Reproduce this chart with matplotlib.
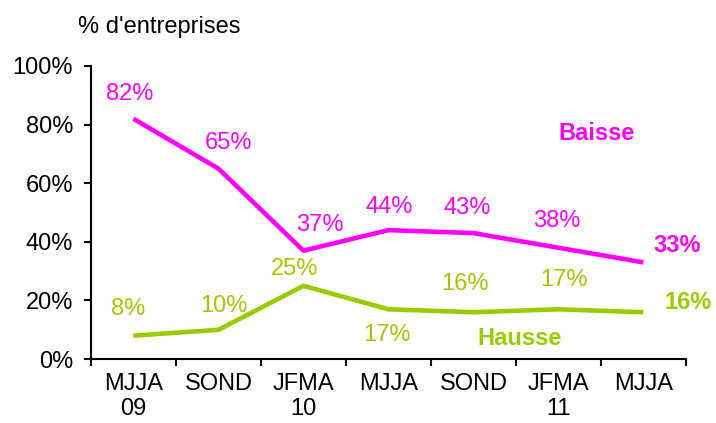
import matplotlib.pyplot as plt
from matplotlib.ticker import FixedLocator, PercentFormatter

plt.rcParams['font.family'] = ['Liberation Sans', 'DejaVu Sans']

periods = ['MJJA\n09', 'SOND', 'JFMA\n10', 'MJJA', 'SOND', 'JFMA\n11', 'MJJA']
baisse = [82, 65, 37, 44, 43, 38, 33]
hausse = [8, 10, 25, 17, 16, 17, 16]

pink = '#FF00FF'
green = '#99CC00'
fs = 17

# label offsets in pixels (dx, dy) from each point
baisse_off = [(-4, 25), (10, 26), (16, 26), (1, 23), (-6, 25), (-2, 27), (34, 17)]
hausse_off = [(-5, 27), (6, 24), (-9, 17), (-1, -26), (-8, 28), (6, 29), (45, 10)]

fig = plt.figure(figsize=(7.16, 4.23), dpi=100)
ax = fig.add_axes([0.127, 0.151, 0.831, 0.693])

x = list(range(len(periods)))
ax.plot(x, [v / 100 for v in baisse], color=pink, lw=3.3, solid_capstyle='butt')
ax.plot(x, [v / 100 for v in hausse], color=green, lw=3.3, solid_capstyle='butt')

last = len(x) - 1
for vals, offs, col in [(baisse, baisse_off, pink), (hausse, hausse_off, green)]:
    for i, (v, (dx, dy)) in enumerate(zip(vals, offs)):
        ax.annotate(f'{v}%', (i, v / 100), xytext=(dx, dy), textcoords='offset pixels',
                    ha='center', va='center', color=col, fontsize=fs,
                    fontweight='bold' if i == last else 'normal', annotation_clip=False)

ax.text(0.85, 0.771, 'Baisse', transform=ax.transAxes, color=pink, fontsize=fs,
        fontweight='bold', ha='center', va='center')
ax.text(0.721, 0.072, 'Hausse', transform=ax.transAxes, color=green, fontsize=fs,
        fontweight='bold', ha='center', va='center')
fig.text(0.223, 0.936, "% d'entreprises", fontsize=fs, ha='center', va='center')

ax.set_xlim(-0.5, len(periods) - 0.5)
ax.set_ylim(0, 1)
ax.yaxis.set_major_locator(FixedLocator([0, 0.2, 0.4, 0.6, 0.8, 1.0]))
ax.yaxis.set_major_formatter(PercentFormatter(1.0, decimals=0))

ax.xaxis.set_major_locator(FixedLocator([i - 0.5 for i in range(len(periods) + 1)]))
ax.xaxis.set_major_formatter(plt.NullFormatter())
ax.xaxis.set_minor_locator(FixedLocator(x))
ax.set_xticklabels(periods, minor=True, linespacing=1.15)
ax.tick_params(axis='x', which='minor', length=0, labelsize=fs, pad=10)
ax.tick_params(axis='x', which='major', length=5, width=1.5)
ax.tick_params(axis='y', length=5, width=1.5, labelsize=fs, pad=8)

for side in ['top', 'right']:
    ax.spines[side].set_visible(False)
for side in ['left', 'bottom']:
    ax.spines[side].set_linewidth(1.5)

fig.savefig('out.png', dpi=100)
